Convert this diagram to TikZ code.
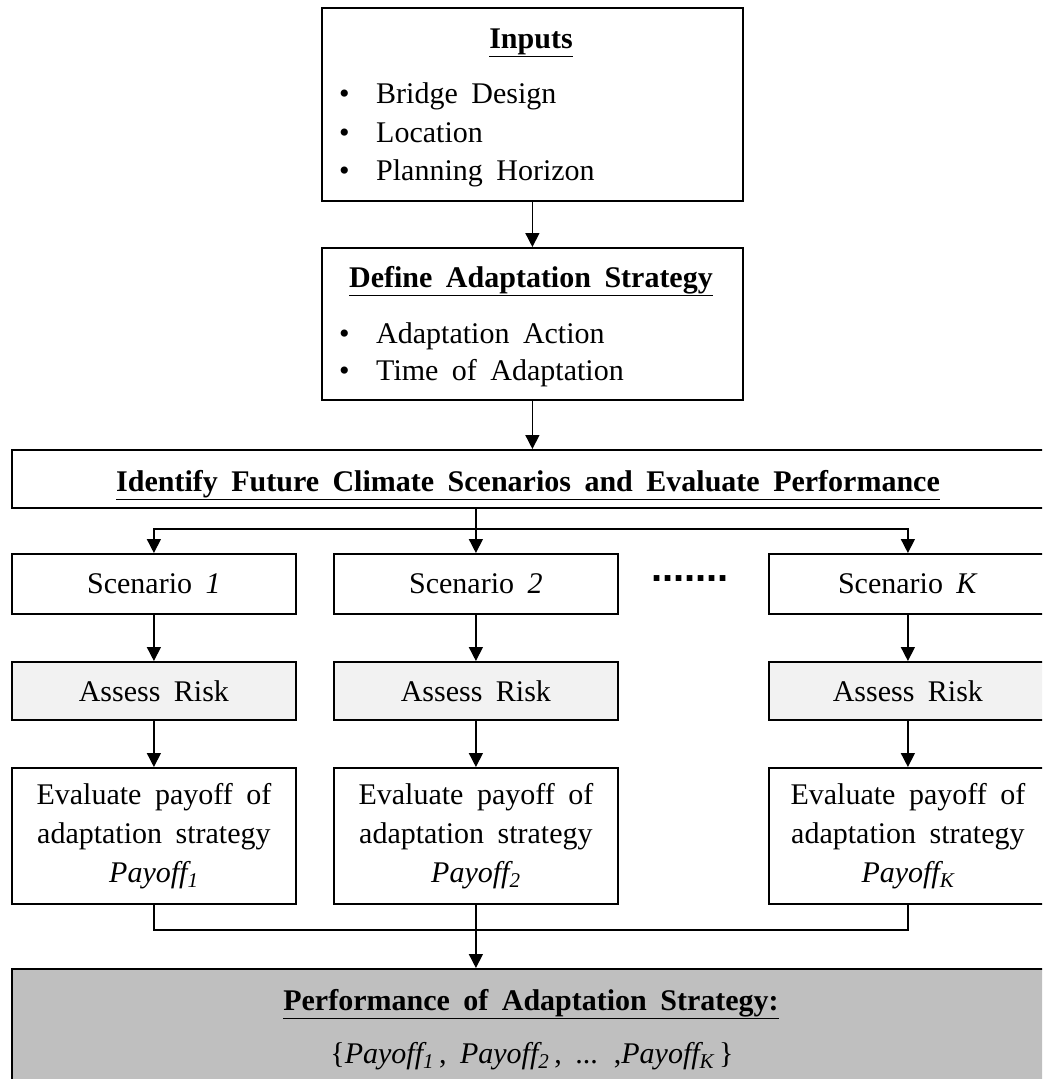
\documentclass[tikz,border=0pt]{standalone}
\usepackage{fontspec}
\setmainfont{Liberation Serif}[WordSpace=1.8]
\newfontfamily\dotfont{Liberation Sans}
\usepackage{tikz}
\usetikzlibrary{
  arrows.meta,
  positioning
}
\tikzset{
  every node/.style={font=\fontsize{30}{39}\selectfont,inner sep=0pt},
  box/.style={draw,line width=1.8pt,rectangle,anchor=north west,align=center},
  flow/.style={line width=1.5pt,-{Triangle[length=14pt,width=14pt]}},
  link/.style={line width=1.5pt},
  item/.style={anchor=base west},
}
\colorlet{riskfill}{black!5}
\colorlet{resultfill}{black!25}
\newcommand{\bull}{\makebox[37pt][l]{•}}

\begin{document}
\begin{tikzpicture}[x=1pt,y=-1pt]
\clip (0,0) rectangle (1042,1079);
% top boxes
\node[box,minimum width=421pt,minimum height=193pt] (inputs) at (321,7) {};
\node[anchor=base] (inputsT) at (531,48) {\textbf{\underline{Inputs}}};
\node[item] (in1) at (339,103) {\bull Bridge Design};
\node[item] (in2) at (339,142) {\bull Location};
\node[item] (in3) at (339,180) {\bull Planning Horizon};

\node[box,minimum width=421pt,minimum height=152pt] (define) at (321,247) {};
\node[anchor=base] (defineT) at (531,287) {\textbf{\underline{Define Adaptation Strategy}}};
\node[item] (df1) at (339,343) {\bull Adaptation Action};
\node[item] (df2) at (339,380) {\bull Time of Adaptation};

\node[box,minimum width=1035pt,minimum height=58pt] (identify) at (11,449) {};
\node[anchor=base] (identifyT) at (528,491)
  {\textbf{\underline{Identify Future Climate Scenarios and Evaluate Performance}}};

\draw[flow] (inputs) -- (define);
\draw[flow] (define.south) -- (define.south |- identify.north);

% one column per scenario
\foreach \k/\x/\w in {1/11/284, 2/333/284, K/768/278}
{
  \node[box,minimum width=\w pt,minimum height=60pt] (s\k) at (\x,553) {Scenario \textit{\k}};
  \node[box,fill=riskfill,minimum width=\w pt,minimum height=58pt] (a\k) at (\x,661) {Assess Risk};
  \node[box,minimum width=\w pt,minimum height=136pt] (e\k) at (\x,767)
    {Evaluate payoff of\\adaptation strategy\\\textit{Payoff\textsubscript{\k}}};
  \draw[flow] (s\k) -- (a\k);
  \draw[flow] (a\k) -- (e\k);
}
\node[font=\fontsize{40}{40}\dotfont\bfseries] (dots) at (690,579) {.......};

% split to the scenarios
\coordinate (split) at (s2.north |- 0,529);
\draw[flow] (identify.south -| s2.north) -- (s2.north);
\draw[flow] (split) -| (s1.north);
\draw[flow] (split) -| (sK.north);

% result
\node[box,fill=resultfill,minimum width=1035pt,minimum height=120pt] (perf) at (11,968) {};
\node[anchor=base] (perfT) at (531,1010) {\textbf{\underline{Performance of Adaptation Strategy:}}};
\node[anchor=base] (perfS) at (532,1063)
  {\{\textit{Payoff\textsubscript{1}}\,, \textit{Payoff\textsubscript{2}}\,, ... ,\textit{Payoff\textsubscript{K}}\,\}};

\coordinate (join) at (e2.south |- 0,930);
\draw[link] (e1.south) |- (join) -| (eK.south);
\draw[flow] (e2.south) -- (e2.south |- perf.north);
\end{tikzpicture}
\end{document}
